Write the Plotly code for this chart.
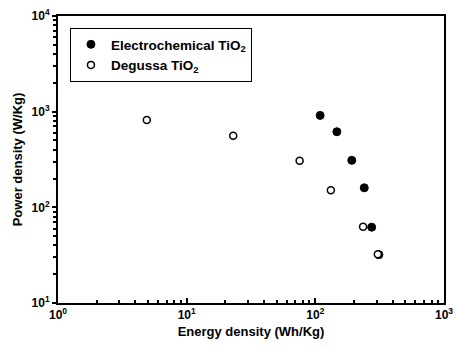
import plotly.graph_objects as go

# Data
electro_energy = [109, 147, 192, 240, 274, 312]
electro_power = [914, 617, 310, 160, 62, 32]
degussa_energy = [4.9, 23, 75.5, 132, 235, 306]
degussa_power = [817, 560, 307, 151, 62.7, 32.3]

x_tickvals = [1, 10, 100, 1000]
x_ticktext = ["<b>10<sup>0</sup></b>", "<b>10<sup>1</sup></b>", "<b>10<sup>2</sup></b>", "<b>10<sup>3</sup></b>"]
y_tickvals = [10, 100, 1000, 10000]
y_ticktext = ["<b>10<sup>1</sup></b>", "<b>10<sup>2</sup></b>", "<b>10<sup>3</sup></b>", "<b>10<sup>4</sup></b>"]

minor_x = [m * 10 ** d for d in range(0, 3) for m in range(2, 10)]
minor_y = [m * 10 ** d for d in range(1, 4) for m in range(2, 10)]

font_family = "Liberation Sans, Arial, sans-serif"

fig = go.Figure()
fig.add_trace(go.Scatter(
    x=electro_energy, y=electro_power, mode="markers",
    name="<b>Electrochemical TiO<sub>2</sub></b>",
    marker=dict(symbol="circle", size=8, color="black", line=dict(color="black", width=1)),
))
fig.add_trace(go.Scatter(
    x=degussa_energy, y=degussa_power, mode="markers",
    name="<b>Degussa TiO<sub>2</sub></b>",
    marker=dict(symbol="circle", size=7, color="white", line=dict(color="black", width=1.5)),
))

fig.update_layout(
    width=456, height=349,
    margin=dict(l=58, r=12, t=16, b=46),
    paper_bgcolor="white", plot_bgcolor="white",
    font=dict(family=font_family, size=12, color="black"),
    showlegend=True,
    legend=dict(
        x=0.031, y=0.958, xanchor="left", yanchor="top",
        bordercolor="black", borderwidth=1, bgcolor="white",
        font=dict(family=font_family, size=13.5, color="black"),
        tracegroupgap=0, itemwidth=30,
    ),
)
fig.update_xaxes(
    type="log", range=[0, 3], automargin=False,
    tickvals=x_tickvals, ticktext=x_ticktext,
    ticks="inside", ticklen=5, tickwidth=1.5, tickcolor="black",
    minor=dict(tickvals=minor_x, ticks="inside", ticklen=3, tickcolor="black", showgrid=False),
    showline=True, linecolor="black", linewidth=2, mirror=True,
    showgrid=False, zeroline=False,
    tickfont=dict(family=font_family, size=12, color="black"),
    title=dict(text="<b>Energy density (Wh/Kg)</b>", font=dict(size=13, family=font_family), standoff=5),
)
fig.update_yaxes(
    type="log", range=[1, 4], automargin=False,
    tickvals=y_tickvals, ticktext=y_ticktext,
    ticks="outside", ticklen=4, tickwidth=1.5, tickcolor="black",
    minor=dict(tickvals=minor_y, ticks="outside", ticklen=3, tickcolor="black", showgrid=False),
    showline=True, linecolor="black", linewidth=2, mirror=True,
    showgrid=False, zeroline=False,
    tickfont=dict(family=font_family, size=12, color="black"),
    title=dict(text="<b>Power density (W/Kg)</b>", font=dict(size=13, family=font_family), standoff=6),
)

fig.write_html(
    "out.html",
    config={"displayModeBar": False},
    post_script="document.body.style.margin='0';document.body.style.overflow='hidden';",
)
